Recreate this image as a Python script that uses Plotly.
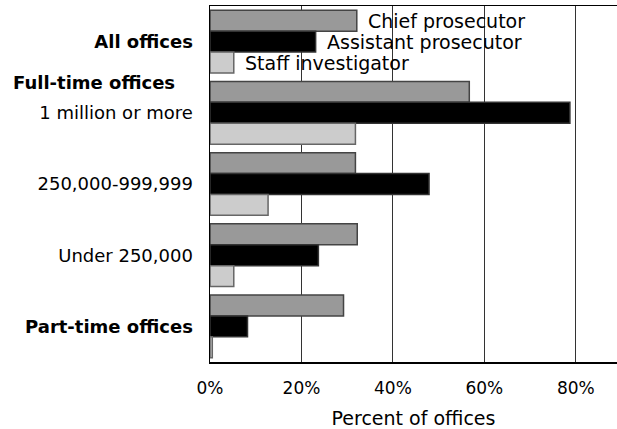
import plotly.graph_objects as go

categories = ["All offices", "1 million or more", "250,000-999,999", "Under 250,000", "Part-time offices"]
tick_labels = ["<b>All offices</b>", "1 million or more", "250,000-999,999", "Under 250,000", "<b>Part-time offices</b>"]
group_heading = "Full-time offices"
series_names = ["Chief prosecutor", "Assistant prosecutor", "Staff investigator"]
chief = [32.1, 56.7, 31.8, 32.2, 29.2]
assistant = [23.1, 78.7, 47.9, 23.7, 8.2]
staff = [5.2, 31.8, 12.7, 5.2, 0.5]
x_ticks = [0, 20, 40, 60, 80]
x_tick_labels = ["0%", "20%", "40%", "60%", "80%"]

FONT = "DejaVu Sans"
series = [chief, assistant, staff]
fills = ["#999999", "#000000", "#cccccc"]
edges = ["#444444", "#333333", "#666666"]

fig = go.Figure()
for name, vals, fc, ec in zip(series_names, series, fills, edges):
    fig.add_trace(go.Bar(
        y=categories, x=vals, orientation="h", name=name,
        marker=dict(color=fc, line=dict(color=ec, width=1.5)),
        showlegend=False, hoverinfo="skip",
    ))

annotations = []
shifts = [21, 0, -21]
for name, vals, ys in zip(series_names, series, shifts):
    annotations.append(dict(
        x=vals[0], y=categories[0], xref="x", yref="y",
        text=name, showarrow=False, xanchor="left", xshift=9, yshift=ys,
        font=dict(family=FONT, size=19, color="black"),
    ))
annotations.append(dict(
    x=0, y=categories[1], xref="paper", yref="y",
    text="<b>" + group_heading + "</b>", showarrow=False,
    xanchor="right", xshift=-33, yshift=30,
    font=dict(family=FONT, size=18, color="black"),
))

fig.update_layout(
    width=617, height=429,
    margin=dict(l=210, r=0, t=6, b=67),
    paper_bgcolor="white", plot_bgcolor="white",
    barmode="group", bargap=0.12, bargroupgap=0,
    font=dict(family=FONT, size=17, color="black"),
    annotations=annotations,
    xaxis=dict(
        range=[0, 89], tickvals=x_ticks, ticktext=x_tick_labels,
        showgrid=True, gridcolor="#333333", gridwidth=1,
        showline=True, linecolor="black", linewidth=1.5, mirror=True,
        zeroline=False, ticks="", ticklabelstandoff=10,
        title=dict(text="Percent of offices", font=dict(family=FONT, size=19), standoff=15),
        tickfont=dict(family=FONT, size=17),
    ),
    yaxis=dict(
        categoryorder="array", categoryarray=categories,
        tickvals=categories, ticktext=tick_labels,
        autorange="reversed", showgrid=False,
        showline=True, linecolor="black", linewidth=1.5,
        ticks="", ticklabelstandoff=12,
        tickfont=dict(family=FONT, size=18),
    ),
)

fig.write_html(
    "out.html",
    config={"displayModeBar": False, "staticPlot": True},
    post_script="document.body.style.margin='0';document.body.style.overflow='hidden';",
)
